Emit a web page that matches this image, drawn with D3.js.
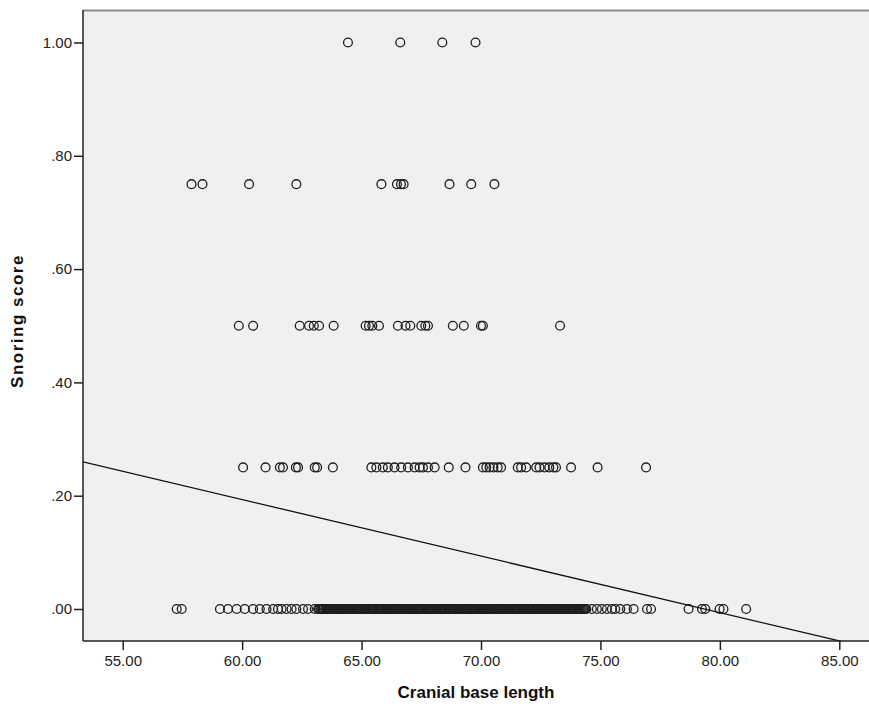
<!DOCTYPE html>
<html>
<head>
<meta charset="utf-8">
<script src="https://d3js.org/d3.v7.min.js"></script>
<style>
  body { margin: 0; background: #fff; }
  text { font-family: "Liberation Sans", Arial, sans-serif; }
</style>
</head>
<body>
<svg class="graphic"></svg>
<script>
// cranial base length for each snoring score level
var score100 = [64.43, 66.62, 68.38, 69.77];
var score075 = [57.88, 58.34, 60.29, 62.27, 65.83, 66.48, 66.65, 66.76, 68.68, 69.59, 70.56];
var score050 = [59.86, 60.46, 62.41, 62.80, 63.00, 63.22, 63.83, 65.17, 65.31, 65.45, 65.73, 66.52,
  66.84, 67.04, 67.50, 67.67, 67.78, 68.82, 69.28, 70.00, 70.08, 73.31];
var score025 = [60.04, 60.98, 61.58, 61.71, 62.25, 62.34, 63.04, 63.14, 63.80, 65.41, 65.62, 65.89,
  66.10, 66.38, 66.66, 66.94, 67.22, 67.43, 67.57, 67.78, 68.06, 68.65, 69.35, 70.08, 70.22, 70.36,
  70.52, 70.70, 70.84, 71.54, 71.68, 71.89, 72.31, 72.45, 72.66, 72.86, 73.03, 73.14, 73.77, 74.88, 76.91];
var score000 = [57.26, 57.47, 59.07, 59.41, 59.77, 60.11, 60.46, 60.74, 61.02, 61.30, 61.50, 61.65,
  61.86, 62.07, 62.27, 62.55, 62.76, 63.04,
  63.18, 63.27, 63.35, 63.41, 63.52, 63.60, 63.66, 63.78, 63.85, 63.93, 64.02, 64.08, 64.16, 64.25,
  64.31, 64.44, 64.52, 64.60, 64.71, 64.79, 64.88, 64.95, 65.03, 65.12, 65.20, 65.31, 65.38, 65.47,
  65.55, 65.66, 65.74, 65.82, 65.90, 66.01, 66.08, 66.19, 66.27, 66.35, 66.44, 66.52, 66.63, 66.70,
  66.79, 66.88, 66.96, 67.05, 67.14, 67.22, 67.33, 67.41, 67.50, 67.58, 67.69, 67.77, 67.85, 67.96,
  68.05, 68.13, 68.24, 68.31, 68.42, 68.50, 68.61, 68.70, 68.78, 68.89, 68.97, 69.06, 69.15, 69.24,
  69.35, 69.43, 69.55, 69.63, 69.71, 69.80, 69.88, 69.95, 70.03, 70.10, 70.19, 70.28, 70.39, 70.47,
  70.58, 70.66, 70.77, 70.85, 70.96, 71.04, 71.15, 71.23, 71.34, 71.42, 71.51, 71.60, 71.72, 71.80,
  71.88, 71.99, 72.07, 72.16, 72.27, 72.35, 72.46, 72.55, 72.63, 72.74, 72.82, 72.93, 73.01, 73.10,
  73.21, 73.30, 73.38, 73.49, 73.57, 73.68, 73.76, 73.85, 73.94, 74.05, 74.13, 74.22, 74.33, 74.41,
  63.22, 63.31, 63.38, 63.47, 63.56, 63.63, 63.71, 63.82, 63.89, 63.97, 64.05, 64.12, 64.20, 64.28,
  64.37, 64.48, 64.56, 64.65, 64.75, 64.83, 64.91, 64.99, 65.08, 65.16, 65.25, 65.34, 65.42, 65.51,
  65.60, 65.70, 65.78, 65.86, 65.95, 66.04, 66.13, 66.23, 66.31, 66.40, 66.48, 66.57, 66.66, 66.74,
  66.83, 66.92, 67.00, 67.09, 67.18, 67.27, 67.37, 67.45, 67.54, 67.63, 67.73, 67.81, 67.90, 68.00,
  68.09, 68.18, 68.27, 68.36, 68.46, 68.55, 68.65, 68.74, 68.83, 68.93, 69.01, 69.10, 69.19, 69.29,
  69.39, 69.49, 69.59, 69.67, 69.75, 69.84, 69.91, 69.99, 70.06, 70.14, 70.23, 70.33, 70.43, 70.52,
  70.62, 70.71, 70.81, 70.90, 71.00, 71.09, 71.19, 71.28, 71.38, 71.46, 71.55, 71.65, 71.76, 71.84,
  71.93, 72.03, 72.11, 72.21, 72.31, 72.40, 72.50, 72.59, 72.68, 72.78, 72.87, 72.97, 73.05, 73.15,
  73.25, 73.34, 73.43, 73.53, 73.62, 73.72, 73.80, 73.89, 73.99, 74.09, 74.17, 74.27, 74.37,
  74.64, 74.85, 75.06, 75.27, 75.48, 75.62, 75.83, 76.11, 76.39, 76.95, 77.12,
  78.69, 79.25, 79.39, 79.99, 80.15, 81.10];

var scoreLevels = [1.00, 0.75, 0.50, 0.25, 0.00];
var scoreRows = [score100, score075, score050, score025, score000];

var xTicks = [55, 60, 65, 70, 75, 80, 85];
var yTicks = [0, 0.2, 0.4, 0.6, 0.8, 1.0];

// linear fit line: score = intercept + slope * length
var fitIntercept = 0.792,
    fitSlope = -0.00998;

var width = 869,
    height = 708,
    plot = {left: 83, right: 869, top: 10, bottom: 641};

var data = [];
scoreRows.forEach(function(row, i) {
    row.forEach(function(v) { data.push({x: v, y: scoreLevels[i]}); });
});

var svg = d3.select(".graphic")
    .attr("width", width)
    .attr("height", height);

var x = d3.scaleLinear().domain([55, 85]).range([122.7, 839.3]);
var y = d3.scaleLinear().domain([0, 1]).range([609, 42.5]);

// plot background
svg.append("rect")
    .attr("x", plot.left)
    .attr("y", plot.top)
    .attr("width", plot.right - plot.left)
    .attr("height", plot.bottom - plot.top)
    .attr("fill", "#f0f0f0");

svg.append("clipPath")
    .attr("id", "plotClip")
    .append("rect")
    .attr("x", plot.left)
    .attr("y", plot.top)
    .attr("width", plot.right - plot.left)
    .attr("height", plot.bottom - plot.top);

// points
svg.append("g")
    .selectAll("circle")
    .data(data)
    .enter()
    .append("circle")
    .attr("cx", function(d) { return x(d.x); })
    .attr("cy", function(d) { return y(d.y); })
    .attr("r", 4.4)
    .attr("fill", "none")
    .attr("stroke", "#1e1e1e")
    .attr("stroke-width", 1.3);

// fit line
var xDomainFull = [x.invert(plot.left), x.invert(plot.right)];
svg.append("line")
    .attr("clip-path", "url(#plotClip)")
    .attr("x1", x(xDomainFull[0]))
    .attr("y1", y(fitIntercept + fitSlope * xDomainFull[0]))
    .attr("x2", x(xDomainFull[1]))
    .attr("y2", y(fitIntercept + fitSlope * xDomainFull[1]))
    .attr("stroke", "#111")
    .attr("stroke-width", 1.3);

// frame: top border grey
svg.append("line")
    .attr("x1", plot.left).attr("x2", plot.right)
    .attr("y1", plot.top + 0.5).attr("y2", plot.top + 0.5)
    .attr("stroke", "#8c8c8c")
    .attr("stroke-width", 2);

// axes
var xAxis = d3.axisBottom(x)
    .tickValues(xTicks)
    .tickSize(9)
    .tickPadding(5)
    .tickFormat(d3.format(".2f"));

var yAxis = d3.axisLeft(y)
    .tickValues(yTicks)
    .tickSize(9)
    .tickPadding(2)
    .tickFormat(function(d) { return d3.format(".2f")(d).replace(/^0/, ""); });

var gx = svg.append("g")
    .attr("transform", "translate(0," + plot.bottom + ")")
    .call(xAxis);
gx.select(".domain").remove();
gx.append("line")
    .attr("x1", plot.left).attr("x2", plot.right)
    .attr("stroke", "#222").attr("stroke-width", 1.5);

var gy = svg.append("g")
    .attr("transform", "translate(" + plot.left + ",0)")
    .call(yAxis);
gy.select(".domain").remove();
gy.append("line")
    .attr("y1", plot.top).attr("y2", plot.bottom)
    .attr("stroke", "#222").attr("stroke-width", 1.5);

svg.selectAll(".tick line").attr("stroke", "#222").attr("stroke-width", 1.5);
svg.selectAll(".tick text")
    .attr("fill", "#222")
    .style("font-size", "15px")
    .style("font-family", "'Liberation Sans', Arial, sans-serif");

// axis titles
svg.append("text")
    .attr("x", (plot.left + plot.right) / 2)
    .attr("y", 698)
    .attr("text-anchor", "middle")
    .attr("font-weight", "bold")
    .attr("font-size", 17)
    .attr("fill", "#111")
    .text("Cranial base length");

svg.append("text")
    .attr("transform", "translate(23,321) rotate(-90)")
    .attr("text-anchor", "middle")
    .attr("font-weight", "bold")
    .attr("font-size", 17)
    .attr("letter-spacing", 1.5)
    .attr("fill", "#111")
    .text("Snoring score");
</script>
</body>
</html>
